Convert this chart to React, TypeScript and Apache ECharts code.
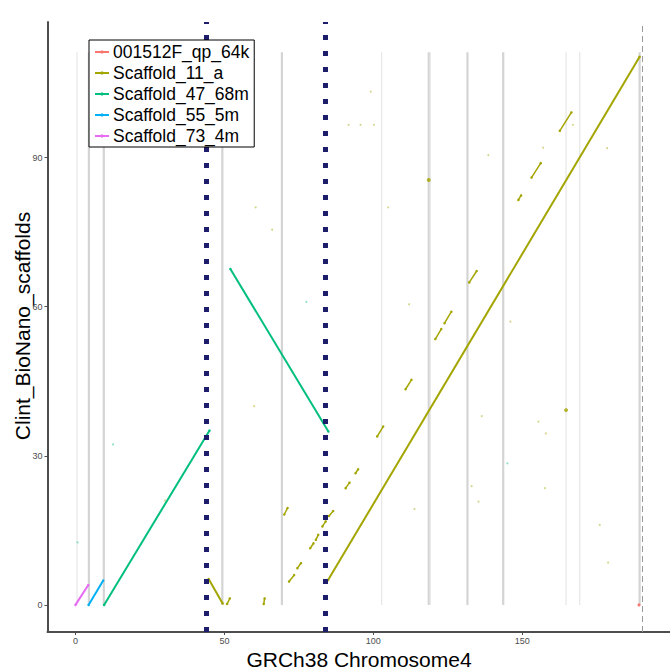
import React, { useEffect, useRef } from "react";
import * as echarts from "echarts";

// ---------- data (Mb on GRCh38 chr4 vs Mb on scaffold) ----------
const seriesNames = ["001512F_qp_64k", "Scaffold_11_a", "Scaffold_47_68m", "Scaffold_55_5m", "Scaffold_73_4m"];
const seriesColors = ["#F8766D", "#A3A500", "#00BF7D", "#00B0F6", "#E76BF3"];

const qp64kPoints = [[189.2, 0.0]];
const scaffold73Segments = [[[0.0, 0.0], [4.3, 4.0]]];
const scaffold55Segments = [[[4.4, 0.0], [9.3, 4.9]]];
const scaffold47Segments = [
  [[9.6, 0.0], [45.0, 35.1]],
  [[52.0, 67.6], [84.9, 34.9]],
];
const scaffold11MainSegments = [
  [[84.8, 5.0], [189.4, 110.3]],
  [[44.7, 5.2], [49.4, 0.3]],
];
const scaffold11ShortSegments = [
  [[50.9, 0.2], [51.8, 1.3]],
  [[63.2, 0.2], [63.5, 1.3]],
  [[71.7, 4.7], [73.4, 6.0]],
  [[74.5, 7.4], [75.7, 8.4]],
  [[78.8, 11.4], [79.9, 12.4]],
  [[80.7, 13.1], [81.5, 14.1]],
  [[82.9, 15.8], [84.0, 16.8]],
  [[85.1, 17.9], [86.5, 18.9]],
  [[70.1, 18.2], [71.2, 19.5]],
  [[90.7, 23.5], [92.0, 24.6]],
  [[94.0, 26.5], [94.9, 27.3]],
  [[101.3, 33.9], [103.3, 35.9]],
  [[110.8, 43.4], [112.8, 45.3]],
  [[120.8, 53.5], [122.8, 55.5]],
  [[123.9, 56.7], [126.2, 59.0]],
  [[132.2, 64.9], [134.7, 67.2]],
  [[148.7, 81.5], [149.6, 82.4]],
  [[153.1, 86.0], [156.2, 88.9]],
  [[162.6, 95.4], [166.5, 99.1]],
];
const scaffold11Dots = [
  [118.6, 85.5], [164.7, 39.2],
];
const scaffold11Specks = [
  [91.7, 96.6], [95.7, 96.6], [100.2, 96.6], [99.1, 103.3], [138.6, 90.5], [157.0, 92.0],
  [167.0, 96.6], [178.5, 91.9], [155.4, 36.9], [157.9, 34.5], [176.0, 16.1], [178.8, 8.5],
  [113.8, 19.3], [136.4, 38.0], [133.0, 23.9], [135.3, 20.8], [157.6, 23.5], [60.5, 80.0],
  [66.0, 75.5], [30.0, 21.0], [60.0, 40.0], [112.0, 60.5], [105.0, 80.0], [146.0, 57.0],
];
const scaffold47Specks = [[12.6, 32.3], [0.7, 12.6], [77.5, 61.0], [145.0, 28.5]];

const strongBoundaries = [4.5, 9.5, 49.3, 69.3, 118.6, 131.6, 143.6, 189.4];
const faintBoundaries = [0.5, 102.8, 119.1, 164.7, 169.3];
const boundaryTop = 111.2;
const breakpoints = [44.0, 83.8];
const chromosomeEnd = 190.2;

const xTicks = [0, 50, 100, 150];
const yTicks = [0, 30, 60, 90];

const FONT = "Liberation Sans, Arial, Helvetica, sans-serif";

export default function App() {
  const ref = useRef<HTMLDivElement>(null);

  useEffect(() => {
    if (!ref.current) return;
    const chart = echarts.init(ref.current, null, { renderer: "svg" });

    const series: any[] = [];

    strongBoundaries.forEach((x) =>
      series.push({
        type: "line", name: "_b", silent: true, symbol: "none", z: 1,
        data: [[x, 0], [x, boundaryTop]],
        lineStyle: { color: "#d4d4d4", width: 2.2 },
      })
    );
    faintBoundaries.forEach((x) =>
      series.push({
        type: "line", name: "_b", silent: true, symbol: "none", z: 1,
        data: [[x, 0], [x, boundaryTop]],
        lineStyle: { color: "#e6e6e6", width: 1.2 },
      })
    );

    series.push({
      type: "line", name: seriesNames[0], data: qp64kPoints, symbol: "circle", symbolSize: 3,
      itemStyle: { color: seriesColors[0] }, lineStyle: { color: seriesColors[0], width: 1.5 }, z: 3,
    });
    const groups = [
      { name: seriesNames[1], segs: scaffold11MainSegments, color: seriesColors[1], w: 2 },
      { name: seriesNames[2], segs: scaffold47Segments, color: seriesColors[2], w: 2 },
      { name: seriesNames[3], segs: scaffold55Segments, color: seriesColors[3], w: 2 },
      { name: seriesNames[4], segs: scaffold73Segments, color: seriesColors[4], w: 2 },
      { name: seriesNames[1], segs: scaffold11ShortSegments, color: seriesColors[1], w: 1.5 },
    ];
    groups.forEach((g) =>
      g.segs.forEach((s) =>
        series.push({
          type: "line", name: g.name, data: s, symbol: "circle", symbolSize: 2.5,
          itemStyle: { color: g.color }, lineStyle: { color: g.color, width: g.w }, z: 3,
        })
      )
    );
    series.push({
      type: "scatter", name: "_d11", data: scaffold11Dots, symbolSize: 4,
      itemStyle: { color: seriesColors[1] }, z: 2,
    });
    series.push({
      type: "scatter", name: "_s11", data: scaffold11Specks, symbolSize: 2,
      itemStyle: { color: seriesColors[1], opacity: 0.45 }, z: 2,
    });
    series.push({
      type: "scatter", name: "_s47", data: scaffold47Specks, symbolSize: 2,
      itemStyle: { color: seriesColors[2], opacity: 0.45 }, z: 2,
    });

    series.push({
      type: "line", name: "_ref", data: [], silent: true,
      markLine: {
        silent: true, symbol: "none", label: { show: false },
        data: breakpoints.map((x) => ({ xAxis: x })),
        lineStyle: { color: "#1d1d6b", width: 5, type: [5, 11], cap: "butt" },
      },
      z: 4,
    });
    series.push({
      type: "line", name: "_end", data: [], silent: true,
      markLine: {
        silent: true, symbol: "none", label: { show: false },
        data: [{ xAxis: chromosomeEnd }],
        lineStyle: { color: "#9a9a9a", width: 1, type: [6, 4] },
      },
      z: 2,
    });

    chart.setOption({
      animation: false,
      textStyle: { fontFamily: FONT },
      grid: { left: 47.5, top: 22, width: 625, height: 610, containLabel: false },
      xAxis: {
        type: "value", min: -9.4, max: 199.6,
        splitLine: { show: false },
        axisLine: { show: true, onZero: false, lineStyle: { color: "#4d4d4d", width: 2 } },
        axisTick: { show: true, length: 3, lineStyle: { color: "#4d4d4d" }, customValues: xTicks },
        axisLabel: { color: "#4d4d4d", fontSize: 9, margin: 4, customValues: xTicks },
      },
      yAxis: {
        type: "value", min: -5.45, max: 117.3,
        splitLine: { show: false },
        axisLine: { show: true, onZero: false, lineStyle: { color: "#4d4d4d", width: 2 } },
        axisTick: { show: true, length: 3, lineStyle: { color: "#4d4d4d" }, customValues: yTicks },
        axisLabel: { color: "#4d4d4d", fontSize: 9, margin: 5, customValues: yTicks },
      },
      legend: {
        data: seriesNames,
        z: 50, zlevel: 0,
        orient: "vertical", left: 89, top: 40,
        backgroundColor: "#ffffff",
        borderColor: "#000000", borderWidth: 1, borderRadius: 0,
        padding: [3, 5, 2, 5], itemGap: 3, itemWidth: 14, itemHeight: 4,
        textStyle: { fontSize: 17.5, color: "#000", lineHeight: 15, fontFamily: FONT, padding: [0, 0, 0, -1] },
        selectedMode: false,
      },
      graphic: [
        {
          type: "text", x: 359, y: 659,
          style: { text: "GRCh38 Chromosome4", fontSize: 21, fill: "#000", align: "center", verticalAlign: "middle", fontFamily: FONT },
        },
        {
          type: "text", x: 22, y: 326, rotation: Math.PI / 2,
          style: { text: "Clint_BioNano_scaffolds", fontSize: 21, fill: "#000", align: "center", verticalAlign: "middle", fontFamily: FONT },
        },
      ],
      series,
    });

    return () => chart.dispose();
  }, []);

  return <div ref={ref} style={{ position: "absolute", left: 0, top: 0, width: 670, height: 671, background: "#fff" }} />;
}
